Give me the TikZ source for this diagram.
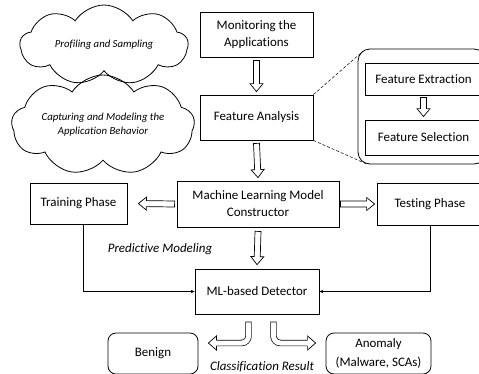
\documentclass[tikz,border=0pt]{standalone}
\usepackage{fontspec}
\setmainfont{Carlito}[Ligatures=NoCommon]
\usetikzlibrary{shapes.symbols,calc,arrows.meta}
\newcommand\blockarr[2]{%
  \coordinate (ba-hb) at ($(#2)!8bp!(#1)$);
  \draw[blk] ($(#1)!3bp!90:(#2)$) -- ($(ba-hb)!3bp!90:(#2)$) -- ($(ba-hb)!6.5bp!90:(#2)$) -- (#2)
    -- ($(ba-hb)!6.5bp!-90:(#2)$) -- ($(ba-hb)!3bp!-90:(#2)$) -- ($(#1)!3bp!-90:(#2)$) -- cycle;}
\tikzset{
  box/.style={draw, line width=0.8bp, rectangle, inner sep=2bp, align=center,
    font=\fontsize{13}{17}\selectfont},
  rbox/.style={box, rounded corners=8bp},
  cloudnode/.style={draw, line width=0.8bp, cloud, cloud puffs=9, cloud puff arc=115,
    cloud ignores aspect, align=center, inner sep=0pt,
    font=\fontsize{10.8}{14}\selectfont\itshape},
  blk/.style={draw, line width=0.7bp, fill=white, line join=miter},
  dbl/.style={draw, line width=0.7bp, double=white, double distance=5bp, rounded corners=7bp, line cap=rect},
  ln/.style={draw, line width=0.7bp, -{Stealth[length=4bp,width=3.5bp]}},
  lbl/.style={font=\fontsize{13}{16}\selectfont\itshape, inner sep=0pt}
}
\begin{document}
\begin{tikzpicture}[x=1bp, y=-1bp]
\useasboundingbox (0,0) rectangle (479,373);
% clouds
\node[cloudnode, minimum width=168bp, minimum height=80bp] (c1) at (104,45) {Profiling and Sampling};
\node[cloudnode, minimum width=183bp, minimum height=100bp] (c2) at (103,125) {Capturing and Modeling the\\Application Behavior};
% main boxes
\node[box, minimum width=113bp, minimum height=45bp] (mon) at (256.5,34.5) {Monitoring the\\Applications};
\node[box, minimum width=113bp, minimum height=45bp] (fa) at (256.5,117.5) {Feature Analysis};
\node[draw, line width=0.8bp, rounded corners=12bp, minimum width=128bp, minimum height=115bp, inner sep=0pt] (grp) at (422,106.5) {};
\node[box, minimum width=117bp, minimum height=32bp] (fe) at (423.5,79) {Feature Extraction};
\node[box, minimum width=117bp, minimum height=35bp] (fs) at (423.5,137.5) {Feature Selection};
\node[box, minimum width=162bp, minimum height=46bp] (ml) at (258,204) {Machine Learning Model\\Constructor};
\node[box, minimum width=97bp, minimum height=41bp] (train) at (78.5,203.5) {Training Phase};
\node[box, minimum width=106bp, minimum height=42bp] (test) at (430,204) {Testing Phase};
\node[box, minimum width=124bp, minimum height=45bp] (det) at (257,291.5) {ML-based Detector};
\node[rbox, minimum width=90bp, minimum height=41bp] (ben) at (153,353.5) {Benign};
\node[rbox, minimum width=105bp, minimum height=41bp, font=\fontsize{13}{19}\selectfont] (anom) at (378.5,353.5) {Anomaly\\(Malware, SCAs)};
% labels
\node[lbl] (pred) at (160,249) {Predictive Modeling};
\node[lbl] (cls) at (262,367) {Classification Result};
% dashed zoom lines
\draw[line width=0.5bp, densely dashed] (fa.north east) -- ($(grp.north west)+(5,3)$);
\draw[line width=0.5bp, densely dashed] (fa.south east) -- ($(grp.south west)+(10,0)$);
% block arrows
\coordinate (a1s) at ($(mon.south)+(0,3)$);  \coordinate (a1e) at ($(fa.north)+(0,-3)$);
\coordinate (a2s) at ($(fa.south)+(0,3)$);   \coordinate (a2e) at ($(ml.north)+(0,-3)$);
\coordinate (a3s) at ($(ml.south)+(0,4)$);   \coordinate (a3e) at ($(det.north)+(0,-4)$);
\coordinate (a4s) at ($(fe.south)+(0,2)$);   \coordinate (a4e) at ($(fs.north)+(0,-3)$);
\coordinate (a5s) at ($(ml.west)+(-2,0)$);   \coordinate (a5e) at ($(train.east)+(11,0)$);
\coordinate (a6s) at ($(ml.east)+(1,0)$);    \coordinate (a6e) at ($(test.west)+(-2,0)$);
\blockarr{a1s}{a1e}
\blockarr{a2s}{a2e}
\blockarr{a3s}{a3e}
\blockarr{a4s}{a4e}
\blockarr{a5s}{a5e}
\blockarr{a6s}{a6e}
% curved block arrows
\coordinate (l1) at ($(det.south)+(-8.5,10.5)$);
\coordinate (l2) at ($(ben.east)+(18,-10.5)$);
\coordinate (r1) at ($(det.south)+(16.5,10.5)$);
\coordinate (r2) at ($(anom.west)+(-18,-10.5)$);
\draw[dbl] (l1) |- (l2);
\draw[dbl] (r1) |- (r2);
\fill[white] ($(l2)+(0,-7)$) -- ($(l2)+(-8,0)$) -- ($(l2)+(0,7)$) -- cycle;
\draw[line width=0.7bp, line join=miter] ($(l2)+(0,-3.2)$) -- ($(l2)+(0,-7)$) -- ($(l2)+(-8,0)$) -- ($(l2)+(0,7)$) -- ($(l2)+(0,3.2)$);
\fill[white] ($(r2)+(0,-7)$) -- ($(r2)+(8,0)$) -- ($(r2)+(0,7)$) -- cycle;
\draw[line width=0.7bp, line join=miter] ($(r2)+(0,-3.2)$) -- ($(r2)+(0,-7)$) -- ($(r2)+(8,0)$) -- ($(r2)+(0,7)$) -- ($(r2)+(0,3.2)$);
% thin connectors
\draw[ln] ($(train.south)+(5,0)$) |- (det.west);
\draw[ln] (test.south) |- (det.east);
\end{tikzpicture}
\end{document}
